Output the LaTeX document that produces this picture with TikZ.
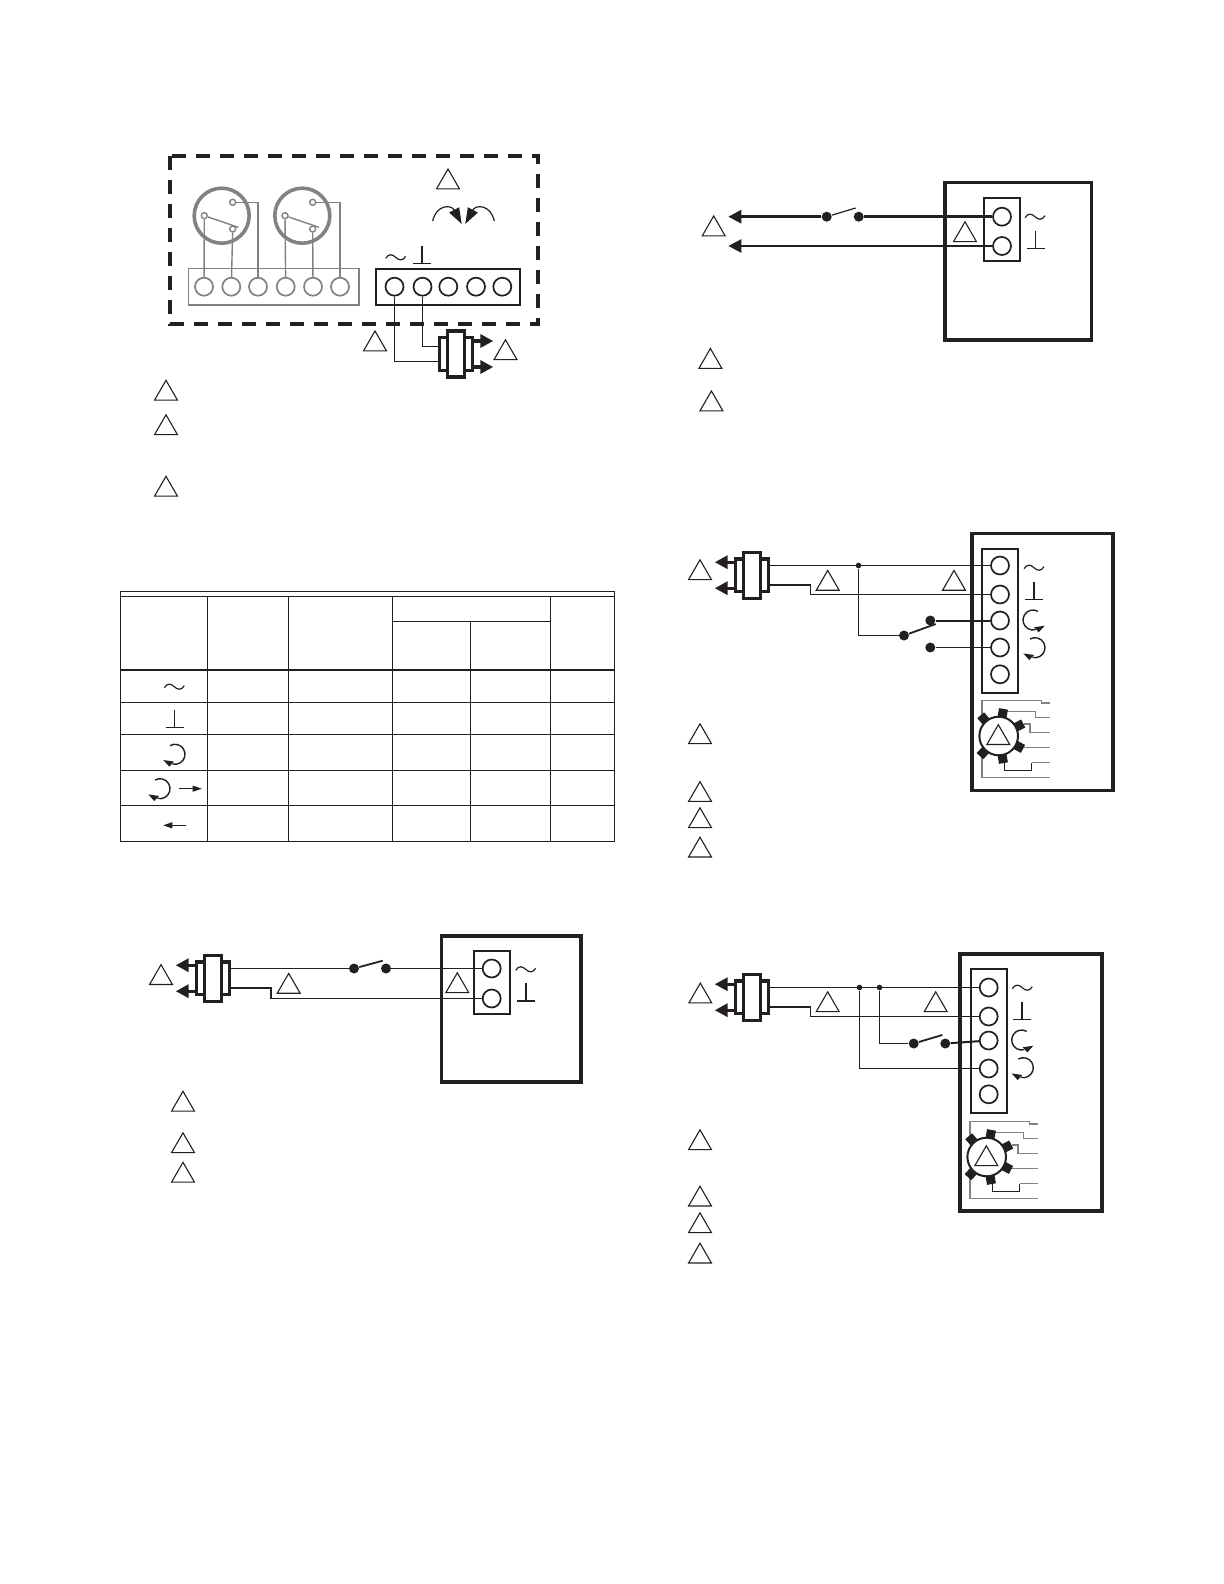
\documentclass[tikz,border=0pt]{standalone}
\usetikzlibrary{shapes.geometric,arrows.meta}
\definecolor{blk}{HTML}{231F20}
\definecolor{gry}{HTML}{808285}
\tikzset{
  wire/.style={draw=blk, line width=.6pt},
  heavy/.style={draw=blk, line width=1.2pt},
  gwire/.style={draw=gry, line width=.7pt},
  head/.style={-{Triangle[length=6.5pt,width=6.5pt]}},
  tri/.style={regular polygon, regular polygon sides=3, minimum size=13.2pt, inner sep=0pt, outer sep=0pt, draw=blk, line width=.55pt},
  term/.style={circle, draw=blk, line width=.85pt, minimum size=9pt, inner sep=0pt, fill=white},
  gterm/.style={term, draw=gry},
  sdot/.style={circle, fill=blk, minimum size=5pt, inner sep=0pt},
  jdot/.style={circle, fill=blk, minimum size=2.8pt, inner sep=0pt},
  gopen/.style={circle, draw=gry, line width=.7pt, minimum size=3pt, inner sep=0pt, fill=white},
  strip/.style={draw=blk, line width=.85pt},
  unit/.style={draw=blk, line width=1.75pt},
  acsym/.pic={\draw[blk, line width=.6pt] (-10,1) .. controls (-7,-4) and (-3,-3) .. (0,0) .. controls (3,3) and (7,4) .. (10,-1);},
  gndsym/.pic={\draw[blk, line width=.7pt] (0,-17.6)--(0,0) (-9,0)--(9,0);},
  turnsym/.pic={
    \draw[blk, line width=.7pt] (-120:10) arc (-120:105:10);
    \fill[blk] (-11.7,5.7)--(-1,7.3)--(-5.7,12.3)--cycle;},
  plug/.pic={
    \draw[heavy, fill=white, line width=1.6pt] (-16.3,-16.3) rectangle (16.3,16.3);
    \draw[heavy, fill=white, line width=1.6pt] (-8.5,-23) rectangle (8.5,23);
    \draw[heavy, head, line width=1.6pt] (16.3,-13)--(37.3,-13);
    \draw[heavy, head, line width=1.6pt] (16.3,13)--(37.3,13);
    \coordinate (-up) at (-16.3,-9.7);
    \coordinate (-dn) at (-16.3,9.7);},
  motor/.pic={
    \draw[gwire, line width=.6pt] (-16.7,-19.3)--(-16.7,-35.3)--(42.6,-35.3)--(42.6,-33)--(51.3,-33);
    \draw[gwire, line width=.6pt] (8,-24.7)--(37,-24.7)--(37,-18.3)--(51.3,-18.3);
    \draw[gwire, line width=.6pt] (25,-12)--(31.3,-12)--(31.3,-3.7)--(51.3,-3.7);
    \draw[gwire, line width=.6pt] (23,11.7)--(51.3,11.7);
    \draw[blk, line width=.5pt] (5.6,24)--(5.6,34)--(33,34)--(33,26.7);
    \draw[gwire, line width=.6pt] (33,26.7)--(51.3,26.7);
    \draw[gwire, line width=.6pt] (-16.7,20.7)--(-16.7,41.7)--(51.3,41.7);
    \foreach \a in {131,80,27,-28,-80,-133}
      \fill[blk, rotate=\a] (18.5,-4.5) rectangle (27.5,4.5);
    \draw[blk, fill=white, line width=1pt] (0,0) circle (19.3);},
}
\begin{document}
\begin{tikzpicture}[x=0.5pt,y=-0.5pt]
\useasboundingbox (0,0) rectangle (1224,1584);

% relay box
\draw[blk, line width=1.6pt, dash pattern=on 7pt off 5pt] (170,156) rectangle (538,324);
\draw[gry, line width=1.8pt] (221.7,215.7) circle (27.5);
\draw[gry, line width=1.8pt] (302.3,215.7) circle (27.5);
\draw[gwire] (188.7,268.7) rectangle (359,305);
\draw[blk, line width=1pt] (376.3,268.7) rectangle (520.3,305);
\foreach \n/\x in {g1/204,g2/231.3,g3/258,g4/285.7,g5/313,g6/340}
  \node[gterm] (\n) at (\x,286.7) {};
\foreach \n/\x in {a1/394.5,a2/422.5,a3/448.3,a4/476,a5/502.3}
  \node[term] (\n) at (\x,286.7) {};
\foreach \n/\x/\y in {k1/204.3/215.7,k2/232.7/229,k3/232.7/202.3,k4/285/215.7,k5/312.7/229,k6/312.7/202.3}
  \node[gopen] (\n) at (\x,\y) {};
\coordinate (kb1) at (238.3,227.3);
\coordinate (kb2) at (319,227.3);
\draw[gwire] (k1)--(kb1);
\draw[gwire] (k4)--(kb2);
\draw[gwire] (g1)--(k1);
\draw[gwire] (g2)--(k2);
\draw[gwire] (g3)|-(k3);
\draw[gwire] (g4)--(k4);
\draw[gwire] (g5)--(k5);
\draw[gwire] (g6)|-(k6);
\pic at (395.7,257.3) {acsym};
\pic at (422,263.3) {gndsym};
\draw[blk, line width=.6pt, -{Triangle[length=8pt,width=5.5pt]}] (432.7,221) .. controls (436,205) and (451,204) .. (461.7,224);
\draw[blk, line width=.6pt, -{Triangle[length=8pt,width=5.5pt]}] (494.3,221) .. controls (491,205) and (476,204) .. (465.3,224);
\pic (pa) at (456,354) {plug};
\coordinate (pa1) at (440,346.5);
\coordinate (pa2) at (440,361.5);
\draw[wire] (a2)|-(pa1);
\draw[wire] (a1)|-(pa2);
\foreach \n/\x/\y in {ta1/448/182.2,ta2/375/344.2,ta3/505.5/353,ta4/166/393.5,ta5/166/428,ta6/166/489.5}
  \node[tri] (\n) at (\x,\y) {};

% table
\draw[blk, line width=.5pt] (120.7,591.7) rectangle (614.3,841);
\draw[blk, line width=.5pt] (120.7,596)--(614.3,596);
\draw[blk, line width=1pt] (120.7,669.7)--(614.3,669.7);
\foreach \y in {702.3,734.3,770.3,805.3}
  \draw[blk, line width=.5pt] (120.7,\y)--(614.3,\y);
\foreach \x in {207.7,288.7,392.6,550.5}
  \draw[blk, line width=.5pt] (\x,596)--(\x,841);
\draw[blk, line width=.5pt] (392.6,621.4)--(550.5,621.4);
\draw[blk, line width=.5pt] (470.6,621.4)--(470.6,841);
\pic at (174.3,686.7) {acsym};
\pic at (174.7,727.7) {gndsym};
\pic at (175,754.3) {turnsym};
\pic at (160,788.7) {turnsym};
\draw[blk, line width=.5pt, -{Triangle[length=4.5pt,width=3pt]}] (179,788.7)--(201.7,788.7);
\draw[blk, line width=.5pt, -{Triangle[length=4.5pt,width=3pt]}] (186,825.3)--(163.3,825.3);

% plain switch, upper right
\draw[unit] (945,182.7) rectangle (1091.3,340);
\draw[strip] (983.7,198) rectangle (1020,260.7);
\node[term] (b1) at (1002,216.7) {};
\node[term] (b2) at (1002,246) {};
\node[sdot] (bs1) at (826.7,216.7) {};
\node[sdot] (bs2) at (858.7,216.7) {};
\coordinate (bb) at (855.7,208);
\coordinate (bl1) at (728.3,216.7);
\coordinate (bl2) at (728.3,246);
\draw[wire] (bs1)--(bb);
\draw[heavy, line width=1.5pt] (b1)--(bs2);
\draw[heavy, head, line width=1.5pt] (bs1)--(bl1);
\draw[heavy, head] (b2)--(bl2);
\pic at (1035,216.7) {acsym};
\pic at (1035.7,248.3) {gndsym};
\foreach \n/\x/\y in {tb1/713.7/229.2,tb2/965/235,tb3/710.4/361.7,tb4/711.4/404.2}
  \node[tri] (\n) at (\x,\y) {};

% floating control with motor
\draw[unit] (972,533.3) rectangle (1113,790.4);
\draw[strip] (982,548.7) rectangle (1018,693.3);
\foreach \n/\y in {c1/565.5,c2/594.5,c3/620.5,c4/647.5,c5/674.3}
  \node[term] (\n) at (1000,\y) {};
\pic (pc) [xscale=-1] at (752,575.2) {plug};
\coordinate (cj) at (810.5,594.5);
\node[jdot] (cd) at (858.5,565.5) {};
\node[sdot] (cs1) at (904,635.5) {};
\node[sdot] (cs2) at (930.3,620.5) {};
\node[sdot] (cs3) at (930.3,647.5) {};
\coordinate (cb) at (935.7,624);
\draw[wire] (pc-up)--(c1);
\draw[wire] (pc-dn)-|(cj)--(c2);
\draw[wire] (cd)|-(cs1);
\draw[wire, line width=.9pt] (cs1)--(cb);
\draw[wire, line width=1pt] (cs2)--(c3);
\draw[wire] (cs3)--(c4);
\pic at (1034,567.7) {acsym};
\pic at (1034,599.3) {gndsym};
\pic[xscale=-1] at (1033,620) {turnsym};
\pic at (1035,647.7) {turnsym};
\pic at (998.7,736) {motor};
\foreach \n/\x/\y in {tc1/700/573,tc2/827.7/583.6,tc3/954/583.6,tc4/998.3/737.9,tc5/700/737,tc6/700/794.8,tc7/700/821,tc8/700/850.4}
  \node[tri] (\n) at (\x,\y) {};

% spst, lower left
\draw[unit] (441.7,936) rectangle (581,1082);
\draw[strip] (474,950.7) rectangle (510.3,1014);
\node[term] (d1) at (491.7,968.5) {};
\node[term] (d2) at (491.7,998.5) {};
\pic (pd) [xscale=-1] at (213,978.2) {plug};
\coordinate (dj) at (270.5,998.5);
\node[sdot] (ds1) at (354,968.5) {};
\node[sdot] (ds2) at (386,968.5) {};
\coordinate (db) at (382.7,960.7);
\draw[wire] (pd-up)--(ds1);
\draw[wire, line width=.9pt] (ds1)--(db);
\draw[wire] (ds2)--(d1);
\draw[wire, line width=1pt] (pd-dn)-|(dj);
\draw[wire] (dj)--(d2);
\pic at (525.7,969.3) {acsym};
\pic at (526,1001) {gndsym};
\foreach \n/\x/\y in {td1/161/977.9,td2/288.7/986.6,td3/457.3/986,td4/183/1104.5,td5/183/1146,td6/183/1175.5}
  \node[tri] (\n) at (\x,\y) {};

% two position, lower right
\draw[unit] (960,954) rectangle (1102,1211);
\draw[strip] (971,969) rectangle (1007.3,1113.3);
\foreach \n/\y in {e1/987.5,e2/1016.5,e3/1040.5,e4/1068.5,e5/1094.3}
  \node[term] (\n) at (988.7,\y) {};
\pic (pe) [xscale=-1] at (752,997.2) {plug};
\coordinate (ej) at (810.5,1016.5);
\node[jdot] (ed1) at (859.5,987.5) {};
\node[jdot] (ed2) at (879.5,987.5) {};
\node[sdot] (es1) at (913.7,1043.5) {};
\node[sdot] (es2) at (945.3,1043.5) {};
\coordinate (eb) at (942.3,1035);
\draw[wire] (pe-up)--(e1);
\draw[wire] (pe-dn)-|(ej)--(e2);
\draw[wire] (ed2)|-(es1);
\draw[wire, line width=.9pt] (es1)--(eb);
\draw[wire, line width=1pt] (es2)--(e3);
\draw[wire] (ed1)|-(e4);
\pic at (1022.3,987.7) {acsym};
\pic at (1022,1019.3) {gndsym};
\pic[xscale=-1] at (1021.7,1040) {turnsym};
\pic at (1023.3,1067.7) {turnsym};
\pic at (986.7,1157) {motor};
\foreach \n/\x/\y in {te1/700.3/996.3,te2/827.7/1005,te3/935.7/1005,te4/986.3/1159,te5/700/1143,te6/700/1199.4,te7/700/1226,te8/700/1256.4}
  \node[tri] (\n) at (\x,\y) {};
\end{tikzpicture}
\end{document}
